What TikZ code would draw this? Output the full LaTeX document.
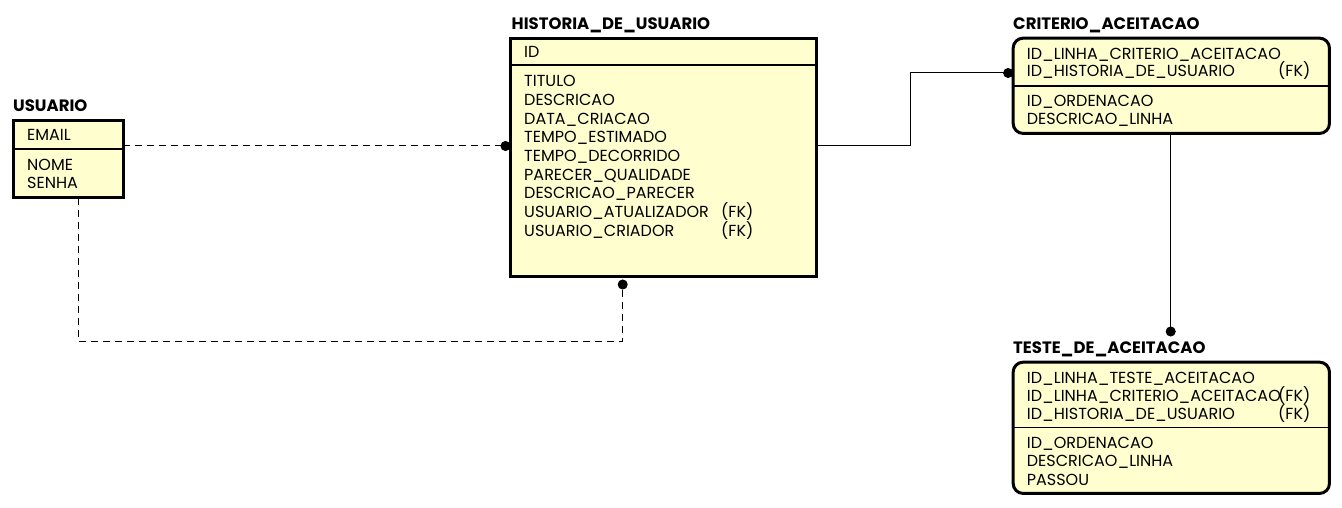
\documentclass[tikz,border=0pt]{standalone}
\usepackage{fontspec}
\setmainfont{Poppins}
\usetikzlibrary{arrows.meta}
\definecolor{entfill}{HTML}{FEFECE}
\begin{document}
\begin{tikzpicture}[x=1pt,y=-1pt,
  entbox/.style={draw=black, line width=3pt, fill=entfill, inner sep=0pt, outer sep=0pt},
  rbox/.style={entbox, rounded corners=10pt},
  ttl/.style={anchor=base west, inner sep=0pt, font=\fontsize{16.5}{16.5}\selectfont\bfseries},
  attr/.style={anchor=base west, inner sep=0pt, font=\fontsize{16}{16}\selectfont},
  divider/.style={line width=1.2pt},
  rel/.style={line width=1pt, -{Circle[length=10pt]}},
  opt/.style={rel, dash pattern=on 7pt off 5pt}]
\useasboundingbox (0,0) rectangle (1342,508);
% entity boxes
\node[entbox, minimum width=110pt, minimum height=77pt] (usu) at (68,159.3) {};
\node[entbox, minimum width=306pt, minimum height=238pt] (hist) at (663.5,157.5) {};
\node[rbox, minimum width=316.3pt, minimum height=95.3pt] (crit) at (1171.3,85.8) {};
\node[rbox, minimum width=316.3pt, minimum height=131.3pt] (test) at (1171.3,427.8) {};
% dividers
\draw[divider] (usu.west |- 0,149) -- (usu.east |- 0,149);
\draw[divider] (hist.west |- 0,65) -- (hist.east |- 0,65);
\draw[divider] (crit.west |- 0,86) -- (crit.east |- 0,86);
\draw[divider] (test.west |- 0,427.3) -- (test.east |- 0,427.3);
% titles
\node[ttl] (tusu) at (13,112) {USUARIO};
\node[ttl] (thist) at (511.5,30) {HISTORIA\_DE\_USUARIO};
\node[ttl] (tcrit) at (1013,29.3) {CRITERIO\_ACEITACAO};
\node[ttl] (ttest) at (1013,353.3) {TESTE\_DE\_ACEITACAO};
% USUARIO attributes
\node[attr] (u1) at (27,141) {EMAIL};
\node[attr] (u2) at (27,171) {NOME};
\node[attr] (u3) at (27,188.7) {SENHA};
% HISTORIA attributes
\node[attr] (h0) at (524,58) {ID};
\node[attr] (h1) at (524,86.7) {TITULO};
\node[attr] (h2) at (524,105.4) {DESCRICAO};
\node[attr] (h3) at (524,124.1) {DATA\_CRIACAO};
\node[attr] (h4) at (524,142.8) {TEMPO\_ESTIMADO};
\node[attr] (h5) at (524,161.5) {TEMPO\_DECORRIDO};
\node[attr] (h6) at (524,180.2) {PARECER\_QUALIDADE};
\node[attr] (h7) at (524,198.9) {DESCRICAO\_PARECER};
\node[attr] (h8) at (524,217.6) {USUARIO\_ATUALIZADOR};
\node[attr] (h8fk) at (721,217.6) {(FK)};
\node[attr] (h9) at (524,236.3) {USUARIO\_CRIADOR};
\node[attr] (h9fk) at (721,236.3) {(FK)};
% CRITERIO attributes
\node[attr] (c1) at (1026.7,59.3) {ID\_LINHA\_CRITERIO\_ACEITACAO};
\node[attr] (c2) at (1026.7,77) {ID\_HISTORIA\_DE\_USUARIO};
\node[attr] (c2fk) at (1278,77) {(FK)};
\node[attr] (c3) at (1026.7,106.7) {ID\_ORDENACAO};
\node[attr] (c4) at (1026.7,124.7) {DESCRICAO\_LINHA};
% TESTE attributes
\node[attr] (t1) at (1026.7,383.3) {ID\_LINHA\_TESTE\_ACEITACAO};
\node[attr] (t2) at (1026.7,401.5) {ID\_LINHA\_CRITERIO\_ACEITACAO};
\node[attr] (t2fk) at (1278,401.5) {(FK)};
\node[attr] (t3) at (1026.7,419.7) {ID\_HISTORIA\_DE\_USUARIO};
\node[attr] (t3fk) at (1278,419.7) {(FK)};
\node[attr] (t4) at (1026.7,448) {ID\_ORDENACAO};
\node[attr] (t5) at (1026.7,466.5) {DESCRICAO\_LINHA};
\node[attr] (t6) at (1026.7,485) {PASSOU};
% connectors
\coordinate (hbot) at (622.7,279.5);
\coordinate (ttop) at (1170.7,336.5);
\draw[opt] (usu.east |- 0,146) -- (hist.west |- 0,146);
\draw[opt] (usu.south -| 78.3,0) -- (78.3,341) -| (hbot);
\draw[rel] (hist.east |- 0,146) -- (910,146) |- (crit.west |- 0,73);
\draw[rel] (crit.south -| 1170.7,0) -- (ttop);
\end{tikzpicture}
\end{document}
